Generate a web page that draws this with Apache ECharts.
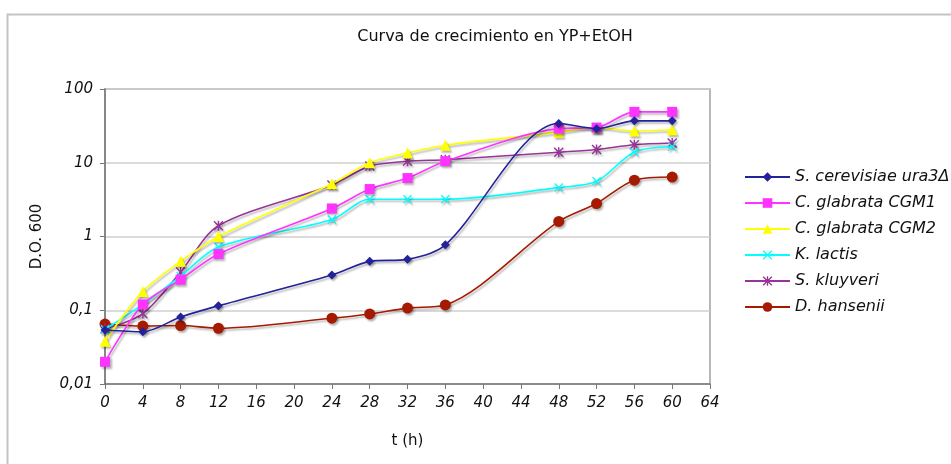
<!DOCTYPE html>
<html>
<head>
<meta charset="utf-8">
<script src="https://cdn.jsdelivr.net/npm/echarts@6/dist/echarts.min.js"></script>
<style>
html,body{margin:0;padding:0;background:#fff;}
#c{width:951px;height:464px;}
</style>
</head>
<body>
<div id="c"></div>
<script>
var times = [0, 4, 8, 12, 24, 28, 32, 36, 48, 52, 56, 60];
var seriesNames = ['S. cerevisiae ura3Δ', 'C. glabrata CGM1', 'C. glabrata CGM2', 'K. lactis', 'S. kluyveri', 'D. hansenii'];
var sCerevisiae = [0.054, 0.051, 0.081, 0.115, 0.30, 0.46, 0.49, 0.77, 34, 29, 37, 37];
var cGlabrata1 = [0.020, 0.12, 0.26, 0.58, 2.4, 4.4, 6.2, 10.5, 29, 30, 49, 49];
var cGlabrata2 = [0.038, 0.18, 0.46, 1.0, 5.2, 10, 13.6, 17.3, 26, 30, 27, 28];
var kLactis = [0.055, 0.12, 0.29, 0.72, 1.7, 3.2, 3.2, 3.2, 4.6, 5.6, 14, 16.5];
var sKluyveri = [0.056, 0.09, 0.33, 1.4, 5.0, 9.0, 10.5, 11, 13.9, 15.1, 17.5, 18.5];
var dHansenii = [0.065, 0.061, 0.062, 0.057, 0.078, 0.089, 0.107, 0.118, 1.6, 2.8, 5.8, 6.4];
var xTicks = [0, 4, 8, 12, 16, 20, 24, 28, 32, 36, 40, 44, 48, 52, 56, 60, 64];
var yTickLabels = ['0,01', '0,1', '1', '10', '100'];

var allValues = [sCerevisiae, cGlabrata1, cGlabrata2, kLactis, sKluyveri, dHansenii];
var colors = ['#22229a', '#ff33ff', '#ffff00', '#00ffff', '#993399', '#a51a00'];
var symbols = [
  'diamond',
  'rect',
  'triangle',
  'path://M1,0 L5,4 L9,0 L10,1 L6,5 L10,9 L9,10 L5,6 L1,10 L0,9 L4,5 L0,1 Z',
  'path://M1,0 L5,4 L9,0 L10,1 L6,5 L10,9 L9,10 L5,6 L1,10 L0,9 L4,5 L0,1 Z M4.3,0 L5.7,0 L5.7,10 L4.3,10 Z',
  'circle'
];
var sizes = [9, 10, 11, 9, 10, 11];

var series = allValues.map(function (vals, i) {
  return {
    name: seriesNames[i],
    type: 'line',
    smooth: 0.3,
    data: times.map(function (t, j) { return [t, vals[j]]; }),
    symbol: symbols[i],
    symbolSize: sizes[i],
    z: 10 - i,
    lineStyle: {
      color: colors[i], width: 1.6,
      shadowColor: 'rgba(0,0,0,0.3)', shadowBlur: 2, shadowOffsetX: 1.5, shadowOffsetY: 2
    },
    itemStyle: {
      color: colors[i], borderWidth: 0,
      shadowColor: 'rgba(0,0,0,0.3)', shadowBlur: 2, shadowOffsetX: 1.5, shadowOffsetY: 2
    },
    emphasis: { disabled: true }
  };
});

var chart = echarts.init(document.getElementById('c'));
chart.setOption({
  animation: false,
  backgroundColor: '#fff',
  title: {
    text: 'Curva de crecimiento en YP+EtOH',
    left: 490, top: 24, textAlign: 'center',
    textStyle: { fontFamily: 'DejaVu Sans', fontSize: 16, fontWeight: 'normal', color: '#111' }
  },
  graphic: [{
    type: 'rect', left: 5, top: 12, silent: true,
    shape: { width: 1000, height: 500 },
    style: { fill: 'none', stroke: '#c4c4c4', lineWidth: 2 }
  }],
  legend: {
    orient: 'vertical', left: 744, top: 169, padding: 0,
    itemWidth: 45, itemHeight: 12, itemGap: 10,
    textStyle: { fontFamily: 'DejaVu Sans', fontStyle: 'italic', fontSize: 16, color: '#111' },
    data: seriesNames
  },
  grid: {
    left: 105, right: 241, top: 89, bottom: 80, show: true,
    borderColor: '#a0a0a0', borderWidth: 1.5
  },
  xAxis: {
    type: 'value', min: 0, max: 64, interval: 4,
    name: 't (h)', nameLocation: 'middle', nameGap: 50,
    nameTextStyle: { fontFamily: 'DejaVu Sans', fontSize: 15, color: '#111' },
    axisLine: { lineStyle: { color: '#777', width: 1.5 } },
    axisTick: { length: 5, lineStyle: { color: '#777' } },
    axisLabel: {
      margin: 12, fontFamily: 'DejaVu Sans', fontStyle: 'italic', fontSize: 15, color: '#111',
      formatter: function (v) { return xTicks.indexOf(v) >= 0 ? String(v) : ''; }
    },
    splitLine: { show: false }
  },
  yAxis: {
    type: 'log', logBase: 10, min: 0.01, max: 100,
    name: 'D.O. 600', nameLocation: 'middle', nameGap: 60, nameRotate: 90,
    nameTextStyle: { fontFamily: 'DejaVu Sans', fontSize: 15, color: '#111' },
    axisLine: { show: true, lineStyle: { color: '#777', width: 1.5 } },
    axisTick: { show: true, length: 5, lineStyle: { color: '#777' } },
    axisLabel: {
      margin: 12, fontFamily: 'DejaVu Sans', fontStyle: 'italic', fontSize: 15, color: '#111',
      formatter: function (v) {
        var e = Math.round(Math.log10(v)) + 2;
        return yTickLabels[e] || '';
      }
    },
    splitLine: { show: true, lineStyle: { color: '#cfcfcf', width: 1.5 } }
  },
  series: series
});
</script>
</body>
</html>
